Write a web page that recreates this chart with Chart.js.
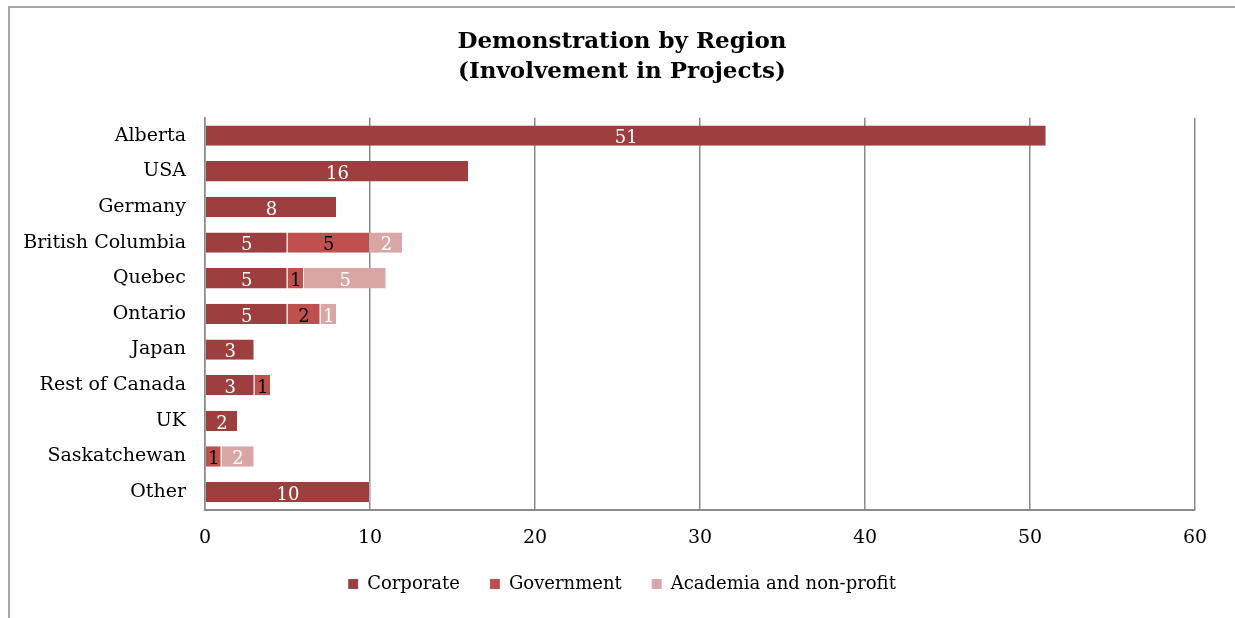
<!DOCTYPE html>
<html>
<head>
<meta charset="utf-8">
<script src="https://cdn.jsdelivr.net/npm/chart.js@4/dist/chart.umd.min.js"></script>
<style>
  html, body { margin: 0; background: #fff; overflow: hidden; }
  #frame { position: absolute; left: 8px; top: 6px; width: 1240px; height: 620px;
           border-top: 2px solid #a6a6a6; border-left: 2px solid #a6a6a6; }
  #wrap { position: absolute; left: 0; top: 0; width: 1235px; height: 618px; }
</style>
</head>
<body>
<div id="frame"></div>
<div id="wrap"><canvas id="chart" width="1235" height="618"></canvas></div>
<script>
const regions = ["Alberta", "USA", "Germany", "British Columbia", "Quebec", "Ontario",
                 "Japan", "Rest of Canada", "UK", "Saskatchewan", "Other"];
const corporate  = [51, 16, 8, 5, 5, 5, 3, 3, 2, 0, 10];
const government = [0, 0, 0, 5, 1, 2, 0, 1, 0, 1, 0];
const academia   = [0, 0, 0, 2, 5, 1, 0, 0, 0, 2, 0];
const xTicks = [0, 10, 20, 30, 40, 50, 60];

const serif = "'DejaVu Serif', Georgia, serif";

// numbers written inside each bar segment
const barLabels = {
  id: "barLabels",
  afterDatasetsDraw(chart) {
    const ctx = chart.ctx;
    ctx.save();
    ctx.font = "18px " + serif;
    ctx.textAlign = "center";
    ctx.textBaseline = "middle";
    chart.data.datasets.forEach((ds, i) => {
      const meta = chart.getDatasetMeta(i);
      meta.data.forEach((bar, j) => {
        const v = ds.data[j];
        if (!v) return;
        ctx.fillStyle = ds.labelColor;
        const cx = (bar.x + bar.base) / 2;
        ctx.fillText(String(v), cx, bar.y + 3);
      });
    });
    ctx.restore();
  }
};

new Chart(document.getElementById("chart"), {
  type: "bar",
  data: {
    labels: regions,
    datasets: [
      { label: "Corporate", data: corporate, backgroundColor: "#9e3f3f", labelColor: "#fff" },
      { label: "Government", data: government, backgroundColor: "#c0504d", labelColor: "#000" },
      { label: "Academia and non-profit", data: academia, backgroundColor: "#d9a6a5", labelColor: "#fff" }
    ]
  },
  options: {
    indexAxis: "y",
    responsive: false,
    animation: false,
    categoryPercentage: 0.57,
    barPercentage: 1,
    layout: { padding: { left: 9, right: 0, top: 20, bottom: 15 } },
    datasets: { bar: { borderWidth: { right: 1 }, borderColor: "rgba(255,255,255,0.35)" } },
    plugins: {
      title: {
        display: true,
        text: ["Demonstration by Region", "(Involvement in Projects)"],
        color: "#000",
        font: { family: serif, size: 23, weight: "bold", lineHeight: 1.3 },
        padding: { top: 7, bottom: 31 }
      },
      legend: {
        position: "bottom",
        labels: {
          color: "#000",
          boxWidth: 10, boxHeight: 10,
          padding: 30,
          font: { family: serif, size: 18 }
        }
      },
      tooltip: { enabled: false }
    },
    scales: {
      x: {
        stacked: true,
        min: 0, max: 60,
        afterBuildTicks: s => { s.ticks = xTicks.map(v => ({ value: v })); },
        afterFit: s => { s.height = 35; s.paddingRight = 40; },
        grid: { color: "#8a8a8a", lineWidth: 1.5, drawTicks: false },
        border: { color: "#8a8a8a", width: 2 },
        ticks: { color: "#000", padding: 17, font: { family: serif, size: 19 } }
      },
      y: {
        stacked: true,
        afterFit: s => { s.width = 196; },
        grid: { display: false, drawTicks: false },
        border: { color: "#8a8a8a", width: 1.5 },
        ticks: { color: "#000", padding: 19, font: { family: serif, size: 19 } }
      }
    }
  },
  plugins: [barLabels]
});
</script>
</body>
</html>
